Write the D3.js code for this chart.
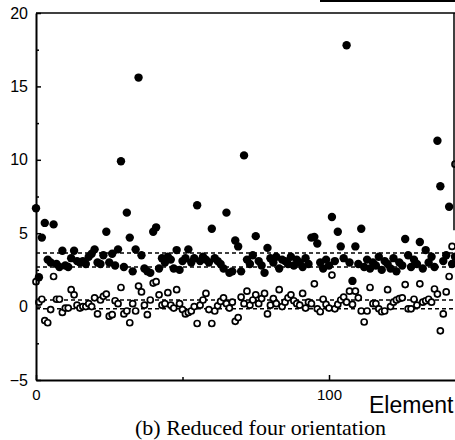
<!DOCTYPE html>
<html>
<head>
<meta charset="utf-8">
<script src="https://cdn.jsdelivr.net/npm/d3@7"></script>
<style>
  body { margin: 0; background: #fff; }
  svg { display: block; }
  .tick text { font-family: "Liberation Sans", Arial, sans-serif; fill: #000; }
</style>
</head>
<body>
<svg id="chart" width="455" height="440"></svg>
<script>
// filled dots: reduced four-orientation, upper series (element 0..143)
const filledValues = [
  6.7, 2.0, 4.7, 5.7, 3.2, 3.0, 5.6, 2.9, 2.7, 3.8,
  2.8, 2.7, 3.3, 3.8, 3.1, 3.0, 3.1, 2.9, 3.4, 3.6,
  3.9, 3.0, 2.9, 3.5, 5.1, 3.0, 3.6, 2.8, 3.9, 9.9,
  2.7, 6.4, 4.7, 2.4, 3.9, 15.6, 3.5, 2.6, 2.4, 2.3,
  5.1, 5.4, 2.6, 3.3, 3.0, 3.4, 3.2, 2.6, 3.85, 2.5,
  3.1, 3.3, 3.9, 3.0, 3.3, 6.9, 3.1, 3.4, 3.2, 3.0,
  5.3, 3.3, 3.1, 2.9, 2.6, 6.4, 2.3, 2.4, 4.5, 4.1,
  2.4, 10.3, 3.2, 2.9, 3.5, 4.8, 3.1, 2.8, 2.3, 4.0,
  3.3, 3.0, 3.4, 2.6, 3.2, 3.1, 2.9, 3.4, 2.8, 3.2,
  3.0, 2.7, 3.3, 2.9, 4.7, 4.75, 4.3, 3.0, 2.6, 3.2,
  2.8, 6.1, 3.1, 5.1, 4.1, 3.3, 17.8, 3.0, 1.75, 4.1,
  2.9, 5.3, 2.7, 3.2, 2.6, 3.0, 2.8, 3.4, 2.5, 3.1,
  2.9, 2.6, 3.3, 2.4, 3.0, 2.8, 4.6, 3.5, 2.7, 3.2,
  2.9, 4.4, 2.6, 3.85, 3.0, 3.4, 2.7, 11.3, 8.2, 3.1,
  3.5, 6.8, 2.9, 3.4
];

// open circles: lower series
const openValues = [
  1.7, 0.3, 0.5, -0.95, -1.1, -0.2, 2.05, 0.5, 0.5, -0.4,
  -0.1, -0.1, 1.15, 0.8, 0.1, -0.1, 0.0, 0.0, 0.2, 0.0,
  0.6, -0.5, 0.45, 0.7, 0.85, -0.65, -0.55, 0.4, 0.2, 1.3,
  -0.5, -0.3, -1.1, 0.2, -0.3, 1.4, 1.0, 0.1, -0.55, 0.45,
  1.6, 1.7, 0.8, 0.1, 0.2, 0.95, 0.1, -0.1, 1.15, 0.2,
  -0.2, -0.5, -0.4, -0.3, 0.0, -1.15, 0.1, 0.45, 0.9, -0.2,
  -1.15, -0.3, 0.05, 0.35, 0.6, 0.2, -0.1, 0.3, -1.0, -0.75,
  0.65, 0.2, 1.05, 0.1, 0.45, 0.8, 0.2, 0.55, 0.9, -0.5,
  0.1, 0.55, 0.2, 1.15, 0.0, 0.3, 0.6, 0.8, 0.4, 0.2,
  0.1, 0.9, -0.1, 0.3, 0.2, 1.55, -0.15, -0.35, 0.5, 0.15,
  -0.1, 2.15, -0.15, 0.15, 0.45, 0.65, 0.3, 1.05, 0.15, 1.05,
  0.6, -0.3, -1.05, -0.3, 1.3, 0.2, 0.2, -0.15, -0.35, -0.3,
  1.15, 0.0, 0.3, 0.45, 0.55, 0.6, 1.5, -0.15, -0.15, 0.5,
  0.1, 1.55, 0.3, 0.4, 0.5, 0.3, 1.2, 0.85, -1.65, -0.5,
  1.0, 2.05, 4.1, 9.7
];

// dashed reference levels
const levels = [3.65, 2.7, 0.45, -0.15];

const yTicks = [-5, 0, 5, 10, 15, 20];
const yMinor = [-2.5, 2.5, 7.5, 12.5, 17.5];
const xTicks = [0, 100];
const xMinor = [50];

const xLabel = 'Element';
const caption = '(b) Reduced four orientation';

const svg = d3.select('#chart');

const x = d3.scaleLinear().domain([0, 143]).range([36, 455]);
const y = d3.scaleLinear().domain([-5, 20]).range([380, 13]);

// dashed lines
svg.append('g')
  .selectAll('line')
  .data(levels)
  .enter()
  .append('line')
  .attr('x1', x(0)).attr('x2', 455)
  .attr('y1', d => y(d)).attr('y2', d => y(d))
  .attr('stroke', '#000')
  .attr('stroke-width', 1.4)
  .attr('stroke-dasharray', '4,3');

// open circles
svg.append('g')
  .selectAll('circle')
  .data(openValues)
  .enter()
  .append('circle')
  .attr('cx', (d, i) => x(i))
  .attr('cy', d => y(d))
  .attr('r', 3)
  .attr('fill', '#fff')
  .attr('stroke', '#000')
  .attr('stroke-width', 1.7);

// filled dots
svg.append('g')
  .selectAll('circle')
  .data(filledValues)
  .enter()
  .append('circle')
  .attr('cx', (d, i) => x(i))
  .attr('cy', d => y(d))
  .attr('r', 4.2)
  .attr('fill', '#000');

// frame: top and (clipped) right edge
svg.append('line')
  .attr('x1', x(0)).attr('x2', 455)
  .attr('y1', y(20)).attr('y2', y(20))
  .attr('stroke', '#000').attr('stroke-width', 1.5);
svg.append('line')
  .attr('x1', 454).attr('x2', 454)
  .attr('y1', y(20)).attr('y2', y(5.2))
  .attr('stroke', '#000').attr('stroke-width', 1.5);
// bit of the legend box cut off at the top
svg.append('line')
  .attr('x1', 320).attr('x2', 455)
  .attr('y1', 1).attr('y2', 1)
  .attr('stroke', '#000').attr('stroke-width', 2);

// y axis, ticks pointing inward
const yAxis = svg.append('g')
  .attr('transform', `translate(${x(0)},0)`)
  .call(d3.axisLeft(y).tickValues(yTicks).tickSize(-5).tickSizeOuter(0).tickPadding(8));
yAxis.selectAll('.tick text').attr('font-size', 16);
svg.append('g')
  .attr('transform', `translate(${x(0)},0)`)
  .call(d3.axisLeft(y).tickValues(yMinor).tickSize(-3).tickFormat(''))
  .select('.domain').remove();

// x axis, ticks pointing up
const xAxis = svg.append('g')
  .attr('transform', `translate(0,${y(-5)})`)
  .call(d3.axisBottom(x).tickValues(xTicks).tickSize(-5).tickSizeOuter(0).tickPadding(9));
xAxis.selectAll('.tick text').attr('font-size', 15);
svg.append('g')
  .attr('transform', `translate(0,${y(-5)})`)
  .call(d3.axisBottom(x).tickValues(xMinor).tickSize(-3).tickFormat(''))
  .select('.domain').remove();

svg.selectAll('.domain').attr('stroke-width', 2);
svg.selectAll('.tick line').attr('stroke-width', 1.5);

svg.append('text')
  .attr('x', 369).attr('y', 413)
  .attr('font-family', '"Liberation Sans", Arial, sans-serif')
  .attr('font-size', 23)
  .text(xLabel);

svg.append('text')
  .attr('x', 135).attr('y', 435)
  .attr('font-family', '"Liberation Serif", "Times New Roman", serif')
  .attr('font-size', 22)
  .text(caption);
</script>
</body>
</html>
